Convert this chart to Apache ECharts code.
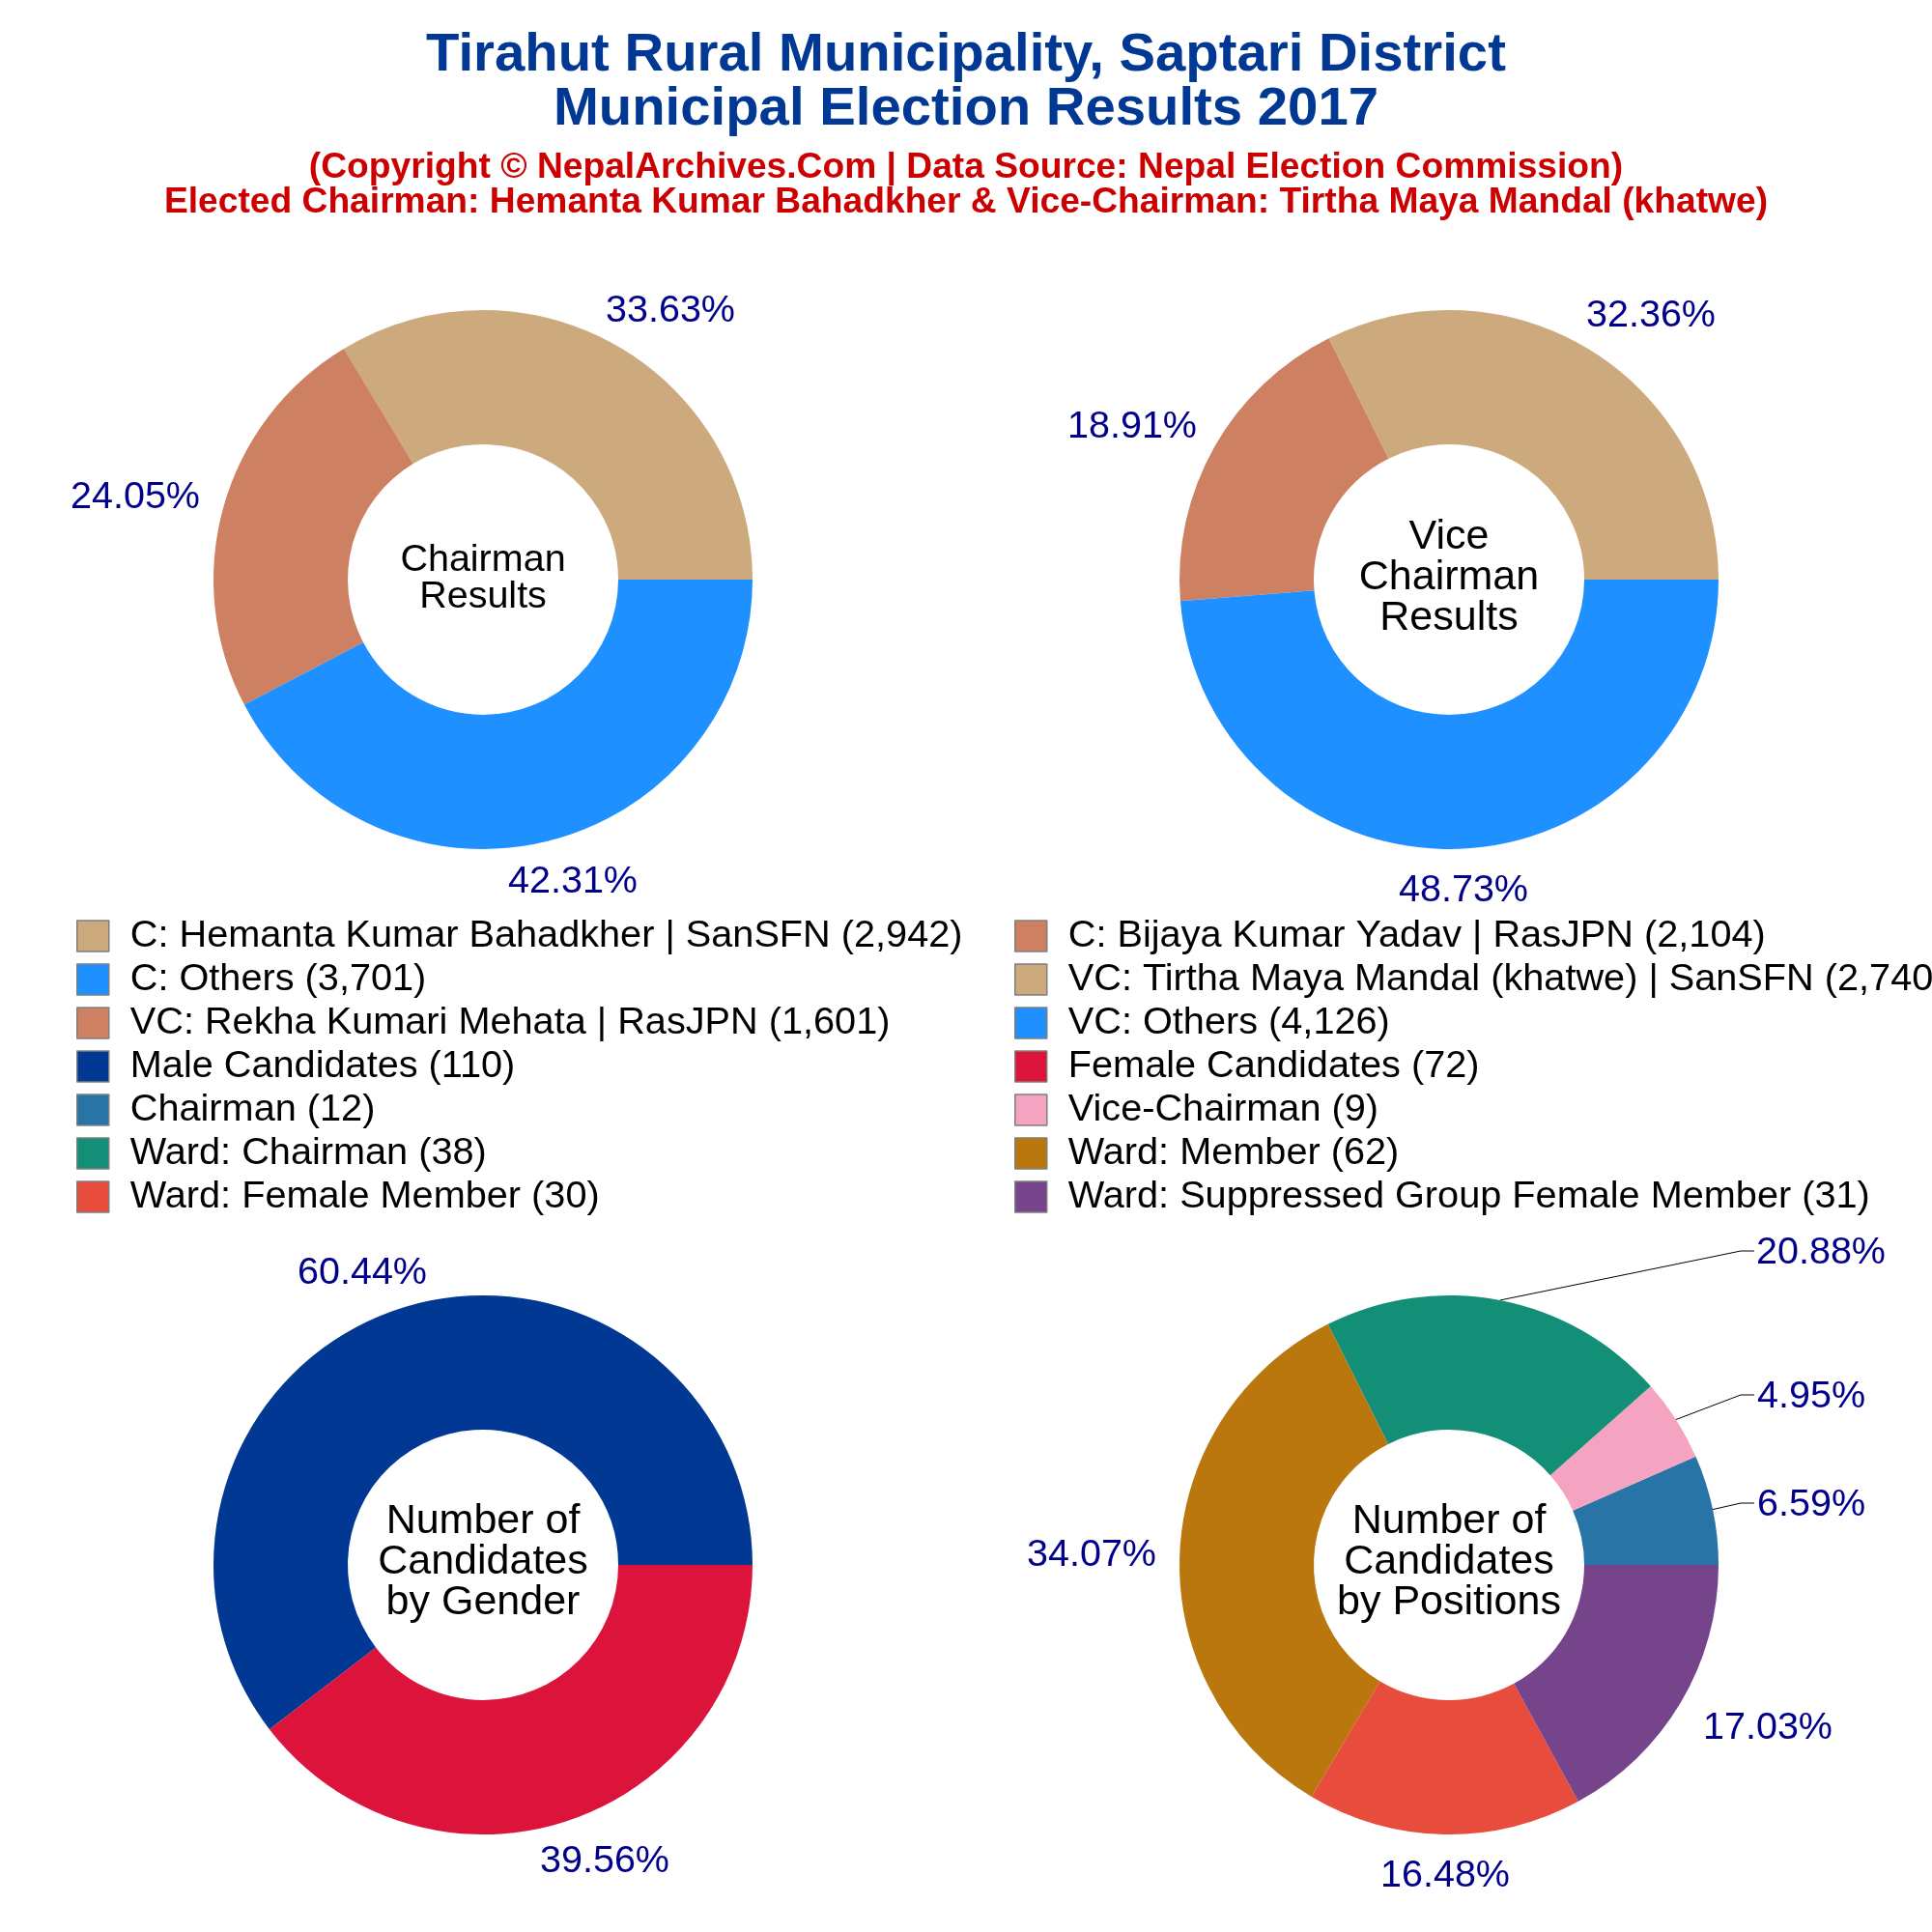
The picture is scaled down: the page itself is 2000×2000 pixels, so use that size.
<!DOCTYPE html>
<html>
<head>
    <meta charset="utf-8" />
    <title>Tirahut Rural Municipality, Saptari District</title>
    <script src="https://cdnjs.cloudflare.com/ajax/libs/echarts/6.0.0/echarts.min.js"></script>
    <style>
        html, body { margin: 0; padding: 0; background: #fff; }
        #chart { width: 2000px; height: 2000px; }
    </style>
</head>
<body>
<div id="chart"></div>
<script type="text/javascript">
    // values
    const chairmanNames = ['C: Hemanta Kumar Bahadkher | SanSFN', 'C: Bijaya Kumar Yadav | RasJPN', 'C: Others'];
    const chairmanVotes = [2942, 2104, 3701];
    const chairmanColors = ['#CDAA7D', '#CD8162', '#1E90FF'];

    const viceNames = ['VC: Tirtha Maya Mandal (khatwe) | SanSFN', 'VC: Rekha Kumari Mehata | RasJPN', 'VC: Others'];
    const viceVotes = [2740, 1601, 4126];
    const viceColors = ['#CDAA7D', '#CD8162', '#1E90FF'];

    const genderNames = ['Male Candidates', 'Female Candidates'];
    const genderCounts = [110, 72];
    const genderColors = ['#003893', '#DC143C'];

    const positionNames = ['Chairman', 'Vice-Chairman', 'Ward: Chairman', 'Ward: Member', 'Ward: Female Member', 'Ward: Suppressed Group Female Member'];
    const positionCounts = [12, 9, 38, 62, 30, 31];
    const positionColors = ['#2874A6', '#F4A4C0', '#148F77', '#B9770E', '#E74C3C', '#76448A'];

    // where the percent labels sit (page pixels, label centre)
    const chairmanLabelAt = [[694, 322], [140, 515], [593, 913]];
    const viceLabelAt = [[1709, 327], [1172, 442], [1515, 922]];
    const genderLabelAt = [[375, 1318], [626, 1927]];
    const positionLabelAt = [[1875, 1558], [1875, 1446], [1885, 1297], [1130, 1610], [1496, 1942], [1830, 1789]];
    // leader lines of the first three position slices: elbow x, y, end x
    const positionLineEndAt = [[1802, 1556, 1816], [1802, 1444, 1816], [1802, 1295, 1816]];

    const fontName = '"Liberation Sans", Arial, sans-serif';

    function legendName(name, count) {
        return name + ' (' + count.toLocaleString('en-US') + ')';
    }

    function buildData(names, counts, colors) {
        return names.map(function (name, i) {
            return {
                name: legendName(name, counts[i]),
                value: counts[i],
                itemStyle: { color: colors[i] }
            };
        });
    }

    function buildPie(center, names, counts, colors, labelAt, lineEnds) {
        const data = buildData(names, counts, colors);
        const total = counts.reduce(function (a, b) { return a + b; }, 0);
        if (lineEnds) {
            data.forEach(function (d, i) {
                d.labelLine = { show: i < lineEnds.length };
            });
        }
        return {
            type: 'pie',
            center: center,
            radius: [140, 279],
            startAngle: 0,
            clockwise: false,
            avoidLabelOverlap: false,
            silent: true,
            animation: false,
            data: data,
            label: {
                // plain rounding, the library's percent would push 33.63 to 33.64
                formatter: function (params) {
                    return (params.value / total * 100).toFixed(2) + '%';
                },
                color: '#00008B',
                fontFamily: fontName,
                fontSize: 39.5
            },
            labelLine: { show: !!lineEnds, lineStyle: { color: '#000', width: 1 } },
            labelLayout: function (params) {
                const at = labelAt[params.dataIndex];
                const out = { x: at[0], y: at[1], align: 'center', verticalAlign: 'middle' };
                if (lineEnds && lineEnds[params.dataIndex] && params.labelLinePoints) {
                    const e = lineEnds[params.dataIndex];
                    out.labelLinePoints = [params.labelLinePoints[0], [e[0], e[1]], [e[2], e[1]]];
                }
                return out;
            }
        };
    }

    function centerTitle(text, x, top, size, lineHeight) {
        return {
            text: text,
            left: x,
            top: top,
            padding: 0,
            textAlign: 'center',
            textStyle: { fontFamily: fontName, fontWeight: 'normal', color: '#000', fontSize: size, lineHeight: lineHeight }
        };
    }

    const leftLegend = [
        legendName(chairmanNames[0], chairmanVotes[0]),
        legendName(chairmanNames[2], chairmanVotes[2]),
        legendName(viceNames[1], viceVotes[1]),
        legendName(genderNames[0], genderCounts[0]),
        legendName(positionNames[0], positionCounts[0]),
        legendName(positionNames[2], positionCounts[2]),
        legendName(positionNames[4], positionCounts[4])
    ];
    const rightLegend = [
        legendName(chairmanNames[1], chairmanVotes[1]),
        legendName(viceNames[0], viceVotes[0]),
        legendName(viceNames[2], viceVotes[2]),
        legendName(genderNames[1], genderCounts[1]),
        legendName(positionNames[1], positionCounts[1]),
        legendName(positionNames[3], positionCounts[3]),
        legendName(positionNames[5], positionCounts[5])
    ];

    function buildLegend(names, x) {
        return {
            type: 'plain',
            orient: 'vertical',
            left: x,
            top: 949,
            padding: 0,
            itemWidth: 33,
            itemHeight: 32,
            itemGap: 5,
            icon: 'rect',
            selectedMode: false,
            data: names,
            itemStyle: { borderColor: '#7f7f7f', borderWidth: 1.5 },
            textStyle: { fontFamily: fontName, fontSize: 39.7, color: '#000', padding: [0, 0, 0, 17] }
        };
    }

    const chart = echarts.init(document.getElementById('chart'), null, { width: 2000, height: 2000 });
    chart.setOption({
        backgroundColor: '#fff',
        animation: false,
        title: [
            {
                text: 'Tirahut Rural Municipality, Saptari District\nMunicipal Election Results 2017',
                left: 1000, top: 29, padding: 0, textAlign: 'center',
                textStyle: { fontFamily: fontName, fontWeight: 'bold', color: '#003893', fontSize: 56.3, lineHeight: 56 }
            },
            {
                text: '(Copyright © NepalArchives.Com | Data Source: Nepal Election Commission)\nElected Chairman: Hemanta Kumar Bahadkher & Vice-Chairman: Tirtha Maya Mandal (khatwe)',
                left: 1000, top: 156, padding: 0, textAlign: 'center',
                textStyle: { fontFamily: fontName, fontWeight: 'bold', color: '#CC0000', fontSize: 37.2, lineHeight: 36 }
            },
            centerTitle('Chairman\nResults', 500, 561, 39.5, 38),
            centerTitle('Vice\nChairman\nResults', 1500, 535, 43, 42),
            centerTitle('Number of\nCandidates\nby Gender', 500, 1554, 43, 42),
            centerTitle('Number of\nCandidates\nby Positions', 1500, 1554, 43, 42)
        ],
        legend: [buildLegend(leftLegend, 79), buildLegend(rightLegend, 1050)],
        series: [
            buildPie([500, 600], chairmanNames, chairmanVotes, chairmanColors, chairmanLabelAt),
            buildPie([1500, 600], viceNames, viceVotes, viceColors, viceLabelAt),
            buildPie([500, 1620], genderNames, genderCounts, genderColors, genderLabelAt),
            buildPie([1500, 1620], positionNames, positionCounts, positionColors, positionLabelAt, positionLineEndAt)
        ]
    });
</script>
</body>
</html>
